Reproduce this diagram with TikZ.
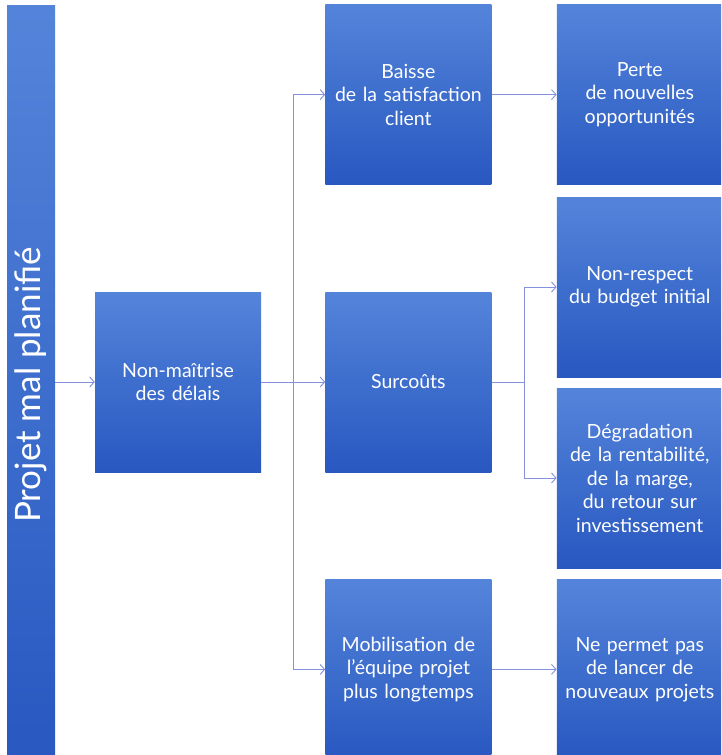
\documentclass[tikz,border=0pt]{standalone}
\usepackage{fontspec}
\setmainfont{Lato}
\usepackage{graphicx}
\usetikzlibrary{%
    arrows.meta,
    positioning,
    calc
}
\definecolor{boxtop}{RGB}{84,132,218}
\definecolor{boxbot}{RGB}{40,88,192}
\definecolor{link}{RGB}{132,146,222}

\begin{document}
\begin{tikzpicture}[x=1pt, y=1pt,
    box/.style={rectangle, minimum width=166pt, minimum height=180pt, inner sep=0pt,
      text width=164pt, align=center, top color=boxtop, bottom color=boxbot,
      text=white, font=\fontsize{19.5}{23.5}\selectfont},
    bar/.style={rectangle, minimum width=48pt, minimum height=760pt, inner sep=0pt,
      top color=boxtop, bottom color=boxbot, text=white, font=\fontsize{35}{40}\selectfont},
    link/.style={draw=link, line width=0.9pt},
    arr/.style={link, -{Straight Barb[length=4.5pt, width=10pt]}}]
      \useasboundingbox (0,0) rectangle (721,-755);
      \clip (0,0) rectangle (721,-755);

      \node[bar] (projet) at (31,-385) {\rotatebox{90}{Projet mal planifié}};
      \node[box] (delais) at (178,-382) {Non-maîtrise\\des délais};
      \node[box, right=64pt of delais] (surcouts) {Surcoûts};
      \node[box, above=107pt of surcouts] (baisse) {Baisse\\de la satisfaction\\client};
      \node[box, below=107pt of surcouts] (mobil) {Mobilisation de\\l’équipe projet\\plus longtemps};
      \node[box, right=65pt of baisse] (perte) {Perte\\de nouvelles\\opportunités};
      \node[box, right=65pt of surcouts, yshift=95pt] (budget) {Non-respect\\du budget initial};
      \node[box, right=65pt of surcouts, yshift=-96pt] (degrad) {Dégradation\\de la rentabilité,\\de la marge,\\du retour sur\\investissement};
      \node[box, right=65pt of mobil] (lancer) {Ne permet pas\\de lancer de\\nouveaux projets};

      \coordinate (trunk) at ($(delais.east)!0.5!(surcouts.west)$);
      \coordinate (split) at ($(surcouts.east)!0.5!(surcouts.east -| budget.west)$);

      \draw[arr] (projet.east |- delais.west) -- (delais.west);
      \draw[arr] (delais) -- (surcouts);
      \draw[arr] (trunk) |- (baisse);
      \draw[arr] (trunk) |- (mobil);
      \draw[arr] (baisse) -- (perte);
      \draw[arr] (mobil) -- (lancer);
      \draw[link] (surcouts.east) -- (split);
      \draw[arr] (split) |- (budget);
      \draw[arr] (split) |- (degrad);
    \end{tikzpicture}
\end{document}
